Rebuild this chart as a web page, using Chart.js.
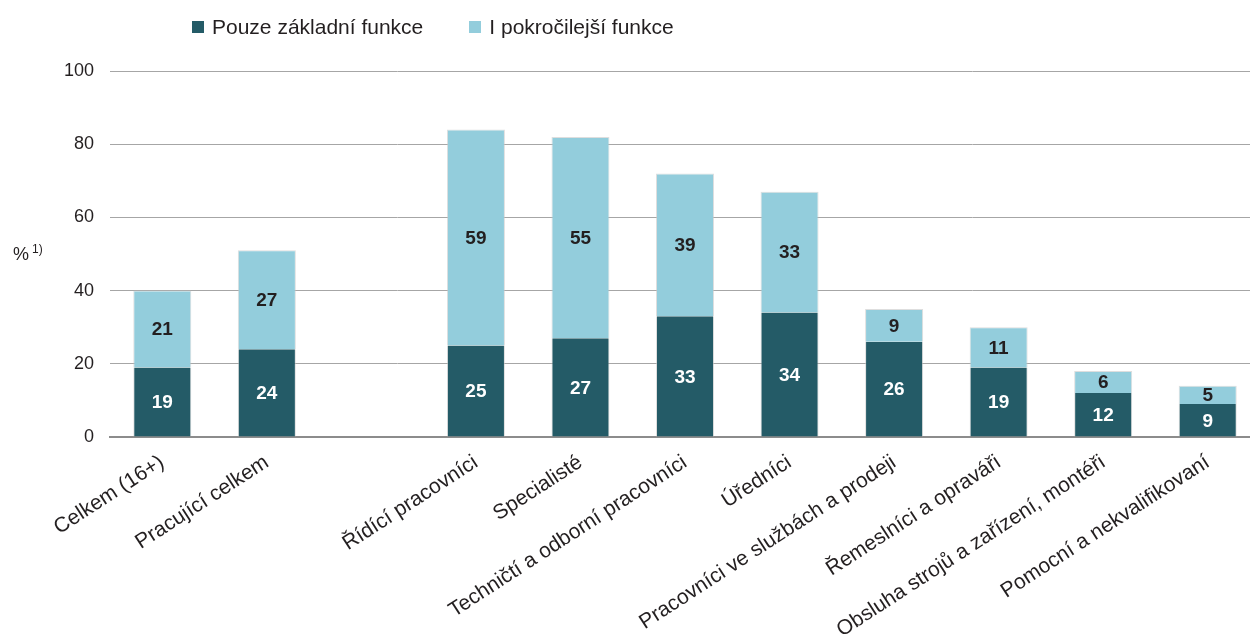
<!DOCTYPE html>
<html>
<head>
<meta charset="utf-8">
<script src="https://cdn.jsdelivr.net/npm/chart.js@4/dist/chart.umd.min.js"></script>
<style>
  html, body { margin: 0; padding: 0; background: #fff; overflow: hidden; }
  #wrap { position: relative; width: 1260px; height: 637px; }
  #legend { position: absolute; left: 192px; top: 15px; font: 21px "Liberation Sans", Arial, sans-serif; color: #231f20; white-space: nowrap; }
  #legend span.item { display: inline-block; margin-right: 46px; }
  #legend span.box { display: inline-block; width: 12px; height: 12px; margin-right: 8px; vertical-align: 1px; }
</style>
</head>
<body>
<div id="wrap">
  <canvas id="chart"></canvas>
  <div id="legend"></div>
</div>
<script>
// categories (empty slot = gap between totals and occupation groups)
var categories = ['Celkem (16+)', 'Pracující celkem', '', 'Řídící pracovníci', 'Specialisté',
                  'Techničtí a odborní pracovníci', 'Úředníci', 'Pracovníci ve službách a prodeji',
                  'Řemeslníci a opraváři', 'Obsluha strojů a zařízení, montéři', 'Pomocní a nekvalifikovaní'];
var basicValues = [19, 24, null, 25, 27, 33, 34, 26, 19, 12, 9];
var advancedValues = [21, 27, null, 59, 55, 39, 33, 9, 11, 6, 5];
var yTicks = [0, 20, 40, 60, 80, 100];

var darkColor = '#245b67';
var lightColor = '#93cddc';

//draws numbers in the middle of each segment
var valueLabels = {
    id: 'valueLabels',
    afterDatasetsDraw: function(chart) {
        var ctx = chart.ctx;
        ctx.save();
        ctx.font = 'bold 19px "Liberation Sans", Arial, sans-serif';
        ctx.textAlign = 'center';
        ctx.textBaseline = 'middle';
        chart.data.datasets.forEach(function(ds, i) {
            var meta = chart.getDatasetMeta(i);
            meta.data.forEach(function(bar, j) {
                if (ds.data[j] == null) return;
                var mid = (bar.y + bar.base) / 2;
                ctx.fillStyle = i === 0 ? '#ffffff' : '#231f20';
                ctx.fillText(ds.data[j], bar.x, mid + 1);
            });
        });
        ctx.restore();
    }
};

//y axis title "%1)" drawn horizontally
var yTitle = {
    id: 'yTitle',
    afterDraw: function(chart) {
        var ctx = chart.ctx;
        var y = chart.scales.y.getPixelForValue(50);
        ctx.save();
        ctx.fillStyle = '#231f20';
        ctx.textBaseline = 'middle';
        ctx.font = '18px "Liberation Sans", Arial, sans-serif';
        ctx.fillText('%', 13, y + 1);
        ctx.font = '12px "Liberation Sans", Arial, sans-serif';
        ctx.fillText('1)', 32, y - 4);
        ctx.restore();
    }
};

var chart = new Chart(document.getElementById('chart'), {
    type: 'bar',
    data: {
        labels: categories,
        datasets: [{
            label: 'Pouze základní funkce',
            data: basicValues,
            backgroundColor: darkColor,
            borderColor: 'rgba(200,200,200,0.6)',
            borderWidth: {left: 1, right: 1, top: 0, bottom: 0},
            barPercentage: 1.0,
            categoryPercentage: 0.555
        }, {
            label: 'I pokročilejší funkce',
            data: advancedValues,
            backgroundColor: lightColor,
            borderColor: 'rgba(200,200,200,0.6)',
            borderWidth: {left: 1, right: 1, top: 1, bottom: 0},
            barPercentage: 1.0,
            categoryPercentage: 0.555
        }]
    },
    options: {
        responsive: true,
        maintainAspectRatio: false,
        animation: false,
        layout: { padding: { left: 48, right: 0, top: 71, bottom: 0 } },
        plugins: {
            legend: { display: false },
            tooltip: { enabled: false }
        },
        scales: {
            x: {
                stacked: true,
                afterFit: function(scale) {
                    scale.height = 200;   //room for rotated labels, like the original
                },
                grid: { display: false, drawTicks: false },
                border: { color: '#8c8c8c', width: 2 },
                ticks: {
                    minRotation: 33,
                    maxRotation: 33,
                    color: '#231f20',
                    padding: 13,
                    font: { size: 21, family: '"Liberation Sans", Arial, sans-serif' }
                }
            },
            y: {
                stacked: true,
                min: 0,
                max: 100,
                afterBuildTicks: function(scale) {
                    scale.ticks = yTicks.map(function(v) { return { value: v }; });
                },
                grid: { color: '#a6a6a6', lineWidth: 1, drawTicks: false },
                border: { display: false },
                ticks: {
                    color: '#231f20',
                    padding: 16,
                    font: { size: 18, family: '"Liberation Sans", Arial, sans-serif' }
                }
            }
        }
    },
    plugins: [valueLabels, yTitle]
});

//html legend built from the datasets
var legendEl = document.getElementById('legend');
chart.data.datasets.forEach(function(ds) {
    var item = document.createElement('span');
    item.className = 'item';
    var box = document.createElement('span');
    box.className = 'box';
    box.style.background = ds.backgroundColor;
    item.appendChild(box);
    item.appendChild(document.createTextNode(ds.label));
    legendEl.appendChild(item);
});
</script>
</body>
</html>
